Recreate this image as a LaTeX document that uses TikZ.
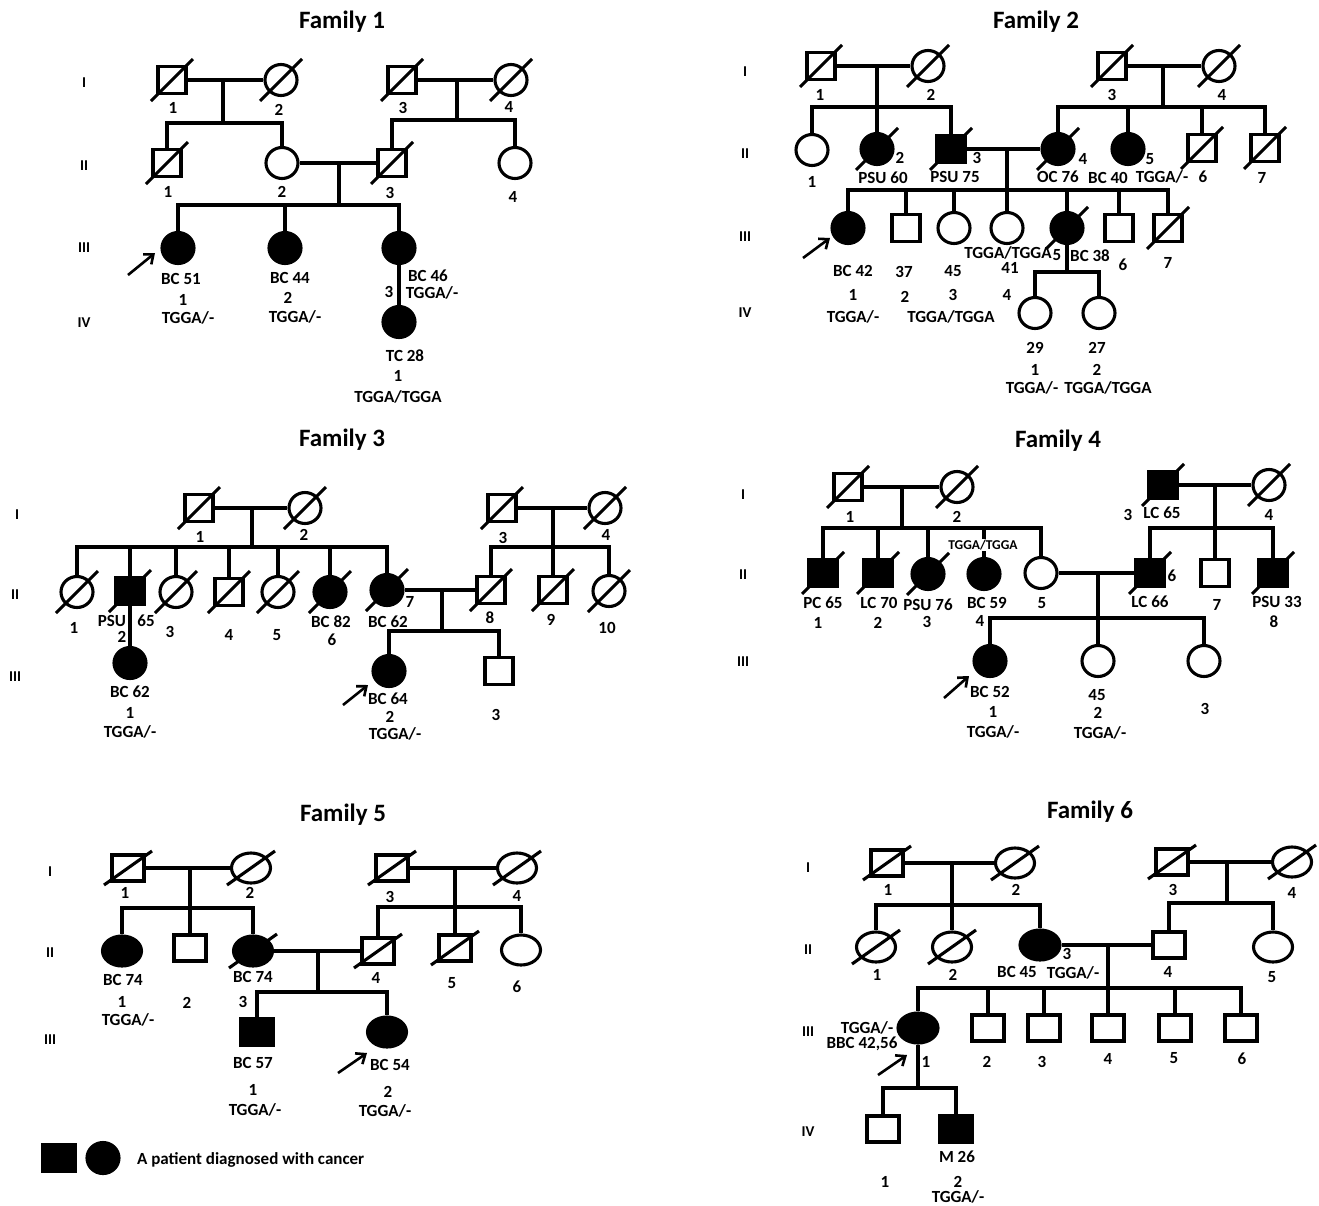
\documentclass[tikz,border=0pt]{standalone}
\usepackage{fontspec}
\setmainfont{Carlito}
\usetikzlibrary{shapes.geometric,arrows.meta}
\newcommand\dcs[1]{\draw[slash] ([shift={(-21,21)}]#1.center) -- ([shift={(21,-21)}]#1.center);}
\newcommand\dcw[1]{\draw[slash] ([shift={(-24,17)}]#1.center) -- ([shift={(24,-17)}]#1.center);}
\newcommand\txtat[4]{\node[txt] (#1) at (#2,#3) {#4};}
\newcommand\drop[2]{\draw[pl] (#1.north) -- (#1.north |- #2);}
\begin{document}
\begin{tikzpicture}[x=1pt,y=-1pt,
 pl/.style={line width=3.1pt},
 slash/.style={line width=3.1pt},
 sq/.style={draw,line width=3.1pt,rectangle,minimum width=28pt,minimum height=27pt,inner sep=0pt},
 ci/.style={draw,line width=3.1pt,ellipse,minimum width=32pt,minimum height=31pt,inner sep=0pt},
 sqw/.style={sq,minimum width=32pt,minimum height=26pt},
 ciw/.style={ci,minimum width=39pt,minimum height=30pt},
 aff/.style={fill=black},
 txt/.style={inner sep=0pt,font=\bfseries\fontsize{17}{17}\selectfont},
 small/.style={inner sep=0pt,font=\bfseries\fontsize{13.5}{13.5}\selectfont},
 gen/.style={inner sep=0pt,font=\bfseries\fontsize{15}{15}\selectfont},
 title/.style={inner sep=0pt,font=\bfseries\fontsize{25}{25}\selectfont},
 prob/.style={line width=2.6pt,-{Straight Barb[length=8pt,width=13pt]}},
]
\fill[white] (0,0) rectangle (1319,1205);
\useasboundingbox (0,0) rectangle (1319,1205);

%%%%%%%%%%%%%%%% FAMILY 1
\node[title] (t1) at (342,22) {Family 1};
\node[gen] (f1g1) at (84,83) {I};
\node[gen] (f1g2) at (84,166) {II};
\node[gen] (f1g3) at (84,248) {III};
\node[gen] (f1g4) at (84,323) {IV};
\node[sq] (f1-1-1) at (172,80) {}; \dcs{f1-1-1}
\node[ci] (f1-1-2) at (281,80) {}; \dcs{f1-1-2}
\node[sq] (f1-1-3) at (402,80) {}; \dcs{f1-1-3}
\node[ci] (f1-1-4) at (511,80) {}; \dcs{f1-1-4}
\node[sq] (f1-2-1) at (167,163) {}; \dcs{f1-2-1}
\node[ci] (f1-2-2) at (282,163) {};
\node[sq] (f1-2-3) at (392,163) {}; \dcs{f1-2-3}
\node[ci] (f1-2-4) at (515,163) {};
\node[ci,aff] (f1-3-1) at (178,248) {};
\node[ci,aff] (f1-3-2) at (285,248) {};
\node[ci,aff] (f1-3-3) at (399,248) {};
\node[ci,aff] (f1-4-1) at (399,322) {};
\coordinate (f1m1) at (223,80); \coordinate (f1s1) at (223,123);
\coordinate (f1m2) at (457,80); \coordinate (f1s2) at (457,120);
\coordinate (f1m3) at (339,163); \coordinate (f1s3) at (339,205);
\draw[pl] (f1-1-1.east) -- (f1-1-2.west);
\draw[pl] (f1-1-3.east) -- (f1-1-4.west);
\draw[pl] (f1-2-2.east) -- (f1-2-3.west);
\draw[pl] (f1m1) -- (f1s1);
\draw[pl] (f1-2-1.north) |- (f1s1) -| (f1-2-2.north);
\draw[pl] (f1m2) -- (f1s2);
\draw[pl] (f1-2-3.north) |- (f1s2) -| (f1-2-4.north);
\draw[pl] (f1m3) -- (f1s3);
\draw[pl] (f1-3-1.north) |- (f1s3) -| (f1-3-3.north);
\drop{f1-3-2}{f1s3}
\draw[pl] (f1-3-3.south) -- (f1-4-1.north);
\coordinate (f1a) at (128,275);
\draw[prob] (f1a) -- ([shift={(-23,5)}]f1-3-1.center);
\txtat{f1t1}{173}{108}{1}
\txtat{f1t2}{279}{110}{2}
\txtat{f1t3}{403}{108}{3}
\txtat{f1t4}{509}{107}{4}
\txtat{f1t5}{168}{192}{1}
\txtat{f1t6}{282}{192}{2}
\txtat{f1t7}{390}{193}{3}
\txtat{f1t8}{513}{197}{4}
\txtat{f1t9}{181}{279}{BC 51}
\txtat{f1t10}{183}{300}{1}
\txtat{f1t11}{188}{318}{TGGA/-}
\txtat{f1t12}{290}{278}{BC 44}
\txtat{f1t13}{288}{298}{2}
\txtat{f1t14}{295}{317}{TGGA/-}
\txtat{f1t15}{428}{276}{BC 46}
\txtat{f1t16}{432}{293}{TGGA/-}
\txtat{f1t17}{389}{292}{3}
\txtat{f1t18}{405}{356}{TC 28}
\txtat{f1t19}{398}{376}{1}
\txtat{f1t20}{398}{397}{TGGA/TGGA}

%%%%%%%%%%%%%%%% FAMILY 2
\node[title] (t2) at (1036,22) {Family 2};
\node[gen] (f2g1) at (745,72) {I};
\node[gen] (f2g2) at (745,154) {II};
\node[gen] (f2g3) at (745,237) {III};
\node[gen] (f2g4) at (745,313) {IV};
\node[sq] (f2-1-1) at (821,66) {}; \dcs{f2-1-1}
\node[ci] (f2-1-2) at (928,66) {}; \dcs{f2-1-2}
\node[sq] (f2-1-3) at (1112,66) {}; \dcs{f2-1-3}
\node[ci] (f2-1-4) at (1219,66) {}; \dcs{f2-1-4}
\node[ci] (f2-2-1) at (812,150) {};
\node[ci,aff] (f2-2-2) at (877,149) {}; \dcs{f2-2-2}
\node[sq,aff] (f2-2-3) at (951,149) {}; \dcs{f2-2-3}
\node[ci,aff] (f2-2-4) at (1058,149) {}; \dcs{f2-2-4}
\node[ci,aff] (f2-2-5) at (1128,149) {};
\node[sq] (f2-2-6) at (1202,148) {}; \dcs{f2-2-6}
\node[sq] (f2-2-7) at (1265,148) {}; \dcs{f2-2-7}
\node[ci,aff] (f2-3-1) at (848,228) {};
\node[sq] (f2-3-2) at (906,228) {};
\node[ci] (f2-3-3) at (954,228) {};
\node[ci] (f2-3-4) at (1007,228) {};
\node[ci,aff] (f2-3-5) at (1067,228) {}; \dcs{f2-3-5}
\node[sq] (f2-3-6) at (1119,228) {};
\node[sq] (f2-3-7) at (1168,228) {}; \dcs{f2-3-7}
\node[ci] (f2-4-1) at (1035,313) {};
\node[ci] (f2-4-2) at (1099,313) {};
\coordinate (f2m1) at (877,66); \coordinate (f2s1) at (877,107);
\coordinate (f2m2) at (1163,66); \coordinate (f2s2) at (1163,107);
\coordinate (f2m3) at (1007,149); \coordinate (f2s3) at (1007,190);
\coordinate (f2s4) at (1067,272);
\draw[pl] (f2-1-1.east) -- (f2-1-2.west);
\draw[pl] (f2-1-3.east) -- (f2-1-4.west);
\draw[pl] (f2-2-3.east) -- (f2-2-4.west);
\draw[pl] (f2m1) -- (f2-2-2.north);
\draw[pl] (f2-2-1.north) |- (f2s1) -| (f2-2-3.north);
\draw[pl] (f2m2) -- (f2s2);
\draw[pl] (f2-2-4.north) |- (f2s2) -| (f2-2-7.north);
\drop{f2-2-5}{f2s2}
\drop{f2-2-6}{f2s2}
\draw[pl] (f2m3) -- (f2-3-4.north);
\draw[pl] (f2-3-1.north) |- (f2s3) -| (f2-3-7.north);
\drop{f2-3-2}{f2s3}
\drop{f2-3-3}{f2s3}
\drop{f2-3-5}{f2s3}
\drop{f2-3-6}{f2s3}
\draw[pl] (f2-3-5.south) -- (f2s4);
\draw[pl] (f2-4-1.north) |- (f2s4) -| (f2-4-2.north);
\coordinate (f2a) at (803,258);
\draw[prob] (f2a) -- ([shift={(-18,10)}]f2-3-1.center);
\txtat{f2t1}{820}{95}{1}
\txtat{f2t2}{931}{95}{2}
\txtat{f2t3}{1112}{95}{3}
\txtat{f2t4}{1222}{95}{4}
\txtat{f2t5}{812}{182}{1}
\txtat{f2t6}{900}{158}{2}
\txtat{f2t7}{883}{178}{PSU 60}
\txtat{f2t8}{977}{158}{3}
\txtat{f2t9}{955}{177}{PSU 75}
\txtat{f2t10}{1083}{159}{4}
\txtat{f2t11}{1058}{177}{OC 76}
\txtat{f2t12}{1150}{159}{5}
\txtat{f2t13}{1108}{178}{BC 40}
\txtat{f2t14}{1162}{177}{TGGA/-}
\txtat{f2t15}{1203}{177}{6}
\txtat{f2t16}{1262}{178}{7}
\txtat{f2t17}{853}{271}{BC 42}
\txtat{f2t18}{904}{272}{37}
\txtat{f2t19}{953}{271}{45}
\txtat{f2t20}{1008}{253}{TGGA/TGGA}
\txtat{f2t21}{1010}{268}{41}
\txtat{f2t22}{1057}{255}{5}
\txtat{f2t23}{1090}{256}{BC 38}
\txtat{f2t24}{1123}{265}{6}
\txtat{f2t25}{1168}{263}{7}
\txtat{f2t26}{853}{295}{1}
\txtat{f2t27}{905}{297}{2}
\txtat{f2t28}{953}{295}{3}
\txtat{f2t29}{1007}{295}{4}
\txtat{f2t30}{853}{317}{TGGA/-}
\txtat{f2t31}{951}{317}{TGGA/TGGA}
\txtat{f2t32}{1035}{348}{29}
\txtat{f2t33}{1097}{348}{27}
\txtat{f2t34}{1035}{370}{1}
\txtat{f2t35}{1097}{370}{2}
\txtat{f2t36}{1032}{388}{TGGA/-}
\txtat{f2t37}{1108}{388}{TGGA/TGGA}

%%%%%%%%%%%%%%%% FAMILY 3
\node[title] (t3) at (342,440) {Family 3};
\node[gen] (f3g1) at (17,515) {I};
\node[gen] (f3g2) at (15,595) {II};
\node[gen] (f3g3) at (15,677) {III};
\node[sq] (f3-1-1) at (199,508) {}; \dcs{f3-1-1}
\node[ci] (f3-1-2) at (305,508) {}; \dcs{f3-1-2}
\node[sq] (f3-1-3) at (502,508) {}; \dcs{f3-1-3}
\node[ci] (f3-1-4) at (605,508) {}; \dcs{f3-1-4}
\node[ci] (f3-2-1) at (77,592) {}; \dcs{f3-2-1}
\node[sq,aff] (f3-2-2) at (130,591) {}; \dcs{f3-2-2}
\node[ci] (f3-2-3) at (176,592) {}; \dcs{f3-2-3}
\node[sq] (f3-2-4) at (229,592) {}; \dcs{f3-2-4}
\node[ci] (f3-2-5) at (278,592) {}; \dcs{f3-2-5}
\node[ci,aff] (f3-2-6) at (330,592) {}; \dcs{f3-2-6}
\node[ci,aff] (f3-2-7) at (387,590) {}; \dcs{f3-2-7}
\node[sq] (f3-2-8) at (491,590) {}; \dcs{f3-2-8}
\node[sq] (f3-2-9) at (553,590) {}; \dcs{f3-2-9}
\node[ci] (f3-2-10) at (609,591) {}; \dcs{f3-2-10}
\node[ci,aff] (f3-3-1) at (130,663) {};
\node[ci,aff] (f3-3-2) at (389,671) {};
\node[sq] (f3-3-3) at (499,671) {};
\coordinate (f3m1) at (252,508); \coordinate (f3s1) at (252,547);
\coordinate (f3m2) at (553,508); \coordinate (f3s2) at (553,547);
\coordinate (f3m3) at (442,590); \coordinate (f3s3) at (442,631);
\draw[pl] (f3-1-1.east) -- (f3-1-2.west);
\draw[pl] (f3-1-3.east) -- (f3-1-4.west);
\draw[pl] (f3-2-7.east) -- (f3-2-8.west);
\draw[pl] (f3m1) -- (f3s1);
\draw[pl] (f3-2-1.north) |- (f3s1) -| (f3-2-7.north);
\drop{f3-2-2}{f3s1}
\drop{f3-2-3}{f3s1}
\drop{f3-2-4}{f3s1}
\drop{f3-2-5}{f3s1}
\drop{f3-2-6}{f3s1}
\draw[pl] (f3m2) -- (f3-2-9.north);
\draw[pl] (f3-2-8.north) |- (f3s2) -| (f3-2-10.north);
\draw[pl] (f3m3) -- (f3s3);
\draw[pl] (f3-3-2.north) |- (f3s3) -| (f3-3-3.north);
\draw[pl] (f3-2-2.south) -- (f3-3-1.north);
\coordinate (f3a) at (343,705);
\draw[prob] (f3a) -- ([shift={(-21,14)}]f3-3-2.center);
\txtat{f3t1}{200}{537}{1}
\txtat{f3t2}{304}{535}{2}
\txtat{f3t3}{503}{538}{3}
\txtat{f3t4}{606}{535}{4}
\txtat{f3t5}{74}{628}{1}
\txtat{f3t6}{112}{621}{PSU}
\txtat{f3t7}{146}{621}{65}
\txtat{f3t8}{122}{637}{2}
\txtat{f3t9}{170}{632}{3}
\txtat{f3t10}{229}{635}{4}
\txtat{f3t11}{277}{635}{5}
\txtat{f3t12}{331}{622}{BC 82}
\txtat{f3t13}{332}{640}{6}
\txtat{f3t14}{410}{602}{7}
\txtat{f3t15}{388}{622}{BC 62}
\txtat{f3t16}{490}{618}{8}
\txtat{f3t17}{551}{620}{9}
\txtat{f3t18}{607}{628}{10}
\txtat{f3t19}{130}{692}{BC 62}
\txtat{f3t20}{130}{713}{1}
\txtat{f3t21}{130}{732}{TGGA/-}
\txtat{f3t22}{388}{699}{BC 64}
\txtat{f3t23}{390}{717}{2}
\txtat{f3t24}{395}{734}{TGGA/-}
\txtat{f3t25}{496}{715}{3}

%%%%%%%%%%%%%%%% FAMILY 4
\node[title] (t4) at (1058,441) {Family 4};
\node[gen] (f4g1) at (743,495) {I};
\node[gen] (f4g2) at (743,575) {II};
\node[gen] (f4g3) at (743,662) {III};
\node[sq] (f4-1-1) at (848,487) {}; \dcs{f4-1-1}
\node[ci] (f4-1-2) at (957,487) {}; \dcs{f4-1-2}
\node[sq,aff] (f4-1-3) at (1163,485) {}; \dcs{f4-1-3}
\node[ci] (f4-1-4) at (1269,485) {}; \dcs{f4-1-4}
\node[sq,aff] (f4-2-1) at (823,573) {}; \dcs{f4-2-1}
\node[sq,aff] (f4-2-2) at (878,573) {}; \dcs{f4-2-2}
\node[ci,aff] (f4-2-3) at (928,574) {}; \dcs{f4-2-3}
\node[ci,aff] (f4-2-4) at (984,574) {};
\node[ci] (f4-2-5) at (1041,573) {};
\node[sq,aff] (f4-2-6) at (1150,573) {}; \dcs{f4-2-6}
\node[sq] (f4-2-7) at (1215,573) {};
\node[sq,aff] (f4-2-8) at (1273,573) {}; \dcs{f4-2-8}
\node[ci,aff] (f4-3-1) at (990,661) {};
\node[ci] (f4-3-2) at (1098,661) {};
\node[ci] (f4-3-3) at (1204,661) {};
\coordinate (f4m1) at (902,487); \coordinate (f4s1) at (902,528);
\coordinate (f4m2) at (1215,485); \coordinate (f4s2) at (1215,528);
\coordinate (f4m3) at (1098,573); \coordinate (f4s3) at (1098,618);
\draw[pl] (f4-1-1.east) -- (f4-1-2.west);
\draw[pl] (f4-1-3.east) -- (f4-1-4.west);
\draw[pl] (f4-2-5.east) -- (f4-2-6.west);
\draw[pl] (f4m1) -- (f4s1);
\draw[pl] (f4-2-1.north) |- (f4s1) -| (f4-2-5.north);
\drop{f4-2-2}{f4s1}
\drop{f4-2-3}{f4s1}
\drop{f4-2-4}{f4s1}
\draw[pl] (f4m2) -- (f4-2-7.north);
\draw[pl] (f4-2-6.north) |- (f4s2) -| (f4-2-8.north);
\draw[pl] (f4m3) -- (f4-3-2.north);
\draw[pl] (f4-3-1.north) |- (f4s3) -| (f4-3-3.north);
\coordinate (f4a) at (944,698);
\draw[prob] (f4a) -- ([shift={(-21,15)}]f4-3-1.center);
\txtat{f4t1}{850}{517}{1}
\txtat{f4t2}{957}{517}{2}
\txtat{f4t3}{1128}{515}{3}
\txtat{f4t4}{1162}{513}{LC 65}
\txtat{f4t5}{1269}{515}{4}
\node[small,fill=white,inner sep=0.5pt] (f4t6) at (983,545) {TGGA/TGGA};
\txtat{f4t7}{823}{603}{PC 65}
\txtat{f4t8}{818}{623}{1}
\txtat{f4t9}{879}{603}{LC 70}
\txtat{f4t10}{878}{623}{2}
\txtat{f4t11}{928}{605}{PSU 76}
\txtat{f4t12}{927}{622}{3}
\txtat{f4t13}{987}{603}{BC 59}
\txtat{f4t14}{980}{621}{4}
\txtat{f4t15}{1042}{603}{5}
\txtat{f4t16}{1172}{576}{6}
\txtat{f4t17}{1150}{602}{LC 66}
\txtat{f4t18}{1217}{605}{7}
\txtat{f4t19}{1277}{602}{PSU 33}
\txtat{f4t20}{1274}{622}{8}
\txtat{f4t21}{990}{692}{BC 52}
\txtat{f4t22}{993}{712}{1}
\txtat{f4t23}{993}{732}{TGGA/-}
\txtat{f4t24}{1097}{695}{45}
\txtat{f4t25}{1098}{713}{2}
\txtat{f4t26}{1100}{733}{TGGA/-}
\txtat{f4t27}{1205}{709}{3}

%%%%%%%%%%%%%%%% FAMILY 5
\node[title] (t5) at (343,815) {Family 5};
\node[gen] (f5g1) at (50,872) {I};
\node[gen] (f5g2) at (50,953) {II};
\node[gen] (f5g3) at (50,1040) {III};
\node[sqw] (f5-1-1) at (128,868) {}; \dcw{f5-1-1}
\node[ciw] (f5-1-2) at (251,868) {}; \dcw{f5-1-2}
\node[sqw] (f5-1-3) at (392,868) {}; \dcw{f5-1-3}
\node[ciw] (f5-1-4) at (517,868) {}; \dcw{f5-1-4}
\node[ciw,aff] (f5-2-1) at (122,951) {};
\node[sqw] (f5-2-2) at (190,948) {};
\node[ciw,aff] (f5-2-3) at (253,951) {}; \dcw{f5-2-3}
\node[sqw] (f5-2-4) at (378,951) {}; \dcw{f5-2-4}
\node[sqw] (f5-2-5) at (455,948) {}; \dcw{f5-2-5}
\node[ciw] (f5-2-6) at (521,950) {};
\node[sqw,aff] (f5-3-1) at (257,1032) {};
\node[ciw,aff] (f5-3-2) at (387,1032) {};
\coordinate (f5m1) at (190,868); \coordinate (f5s1) at (190,908);
\coordinate (f5m2) at (455,868); \coordinate (f5s2) at (455,907);
\coordinate (f5m3) at (318,951); \coordinate (f5s3) at (318,992);
\draw[pl] (f5-1-1.east) -- (f5-1-2.west);
\draw[pl] (f5-1-3.east) -- (f5-1-4.west);
\draw[pl] (f5-2-3.east) -- (f5-2-4.west);
\draw[pl] (f5m1) -- (f5-2-2.north);
\draw[pl] (f5-2-1.north) |- (f5s1) -| (f5-2-3.north);
\draw[pl] (f5m2) -- (f5-2-5.north);
\draw[pl] (f5-2-4.north) |- (f5s2) -| (f5-2-6.north);
\draw[pl] (f5m3) -- (f5s3);
\draw[pl] (f5-3-1.north) |- (f5s3) -| (f5-3-2.north);
\coordinate (f5a) at (338,1073);
\draw[prob] (f5a) -- ([shift={(-20,21)}]f5-3-2.center);
\txtat{f5t1}{125}{893}{1}
\txtat{f5t2}{250}{893}{2}
\txtat{f5t3}{390}{897}{3}
\txtat{f5t4}{517}{896}{4}
\txtat{f5t5}{123}{980}{BC 74}
\txtat{f5t6}{122}{1002}{1}
\txtat{f5t7}{128}{1020}{TGGA/-}
\txtat{f5t8}{187}{1003}{2}
\txtat{f5t9}{253}{977}{BC 74}
\txtat{f5t10}{243}{1002}{3}
\txtat{f5t11}{376}{978}{4}
\txtat{f5t12}{452}{983}{5}
\txtat{f5t13}{517}{987}{6}
\txtat{f5t14}{253}{1063}{BC 57}
\txtat{f5t15}{253}{1090}{1}
\txtat{f5t16}{255}{1110}{TGGA/-}
\txtat{f5t17}{390}{1065}{BC 54}
\txtat{f5t18}{388}{1092}{2}
\txtat{f5t19}{385}{1111}{TGGA/-}
% legend
\node[sq,aff,minimum width=33pt,minimum height=27pt] (lg1) at (59,1158) {};
\node[ci,aff] (lg2) at (103,1158) {};
\node[inner sep=0pt,anchor=west,font=\bfseries\fontsize{17}{17}\selectfont] (lg3) at (137,1160) {A patient diagnosed with cancer};

%%%%%%%%%%%%%%%% FAMILY 6
\node[title] (t6) at (1090,812) {Family 6};
\node[gen] (f6g1) at (808,868) {I};
\node[gen] (f6g2) at (808,950) {II};
\node[gen] (f6g3) at (808,1032) {III};
\node[gen] (f6g4) at (808,1132) {IV};
\node[sqw] (f6-1-1) at (887,863) {}; \dcw{f6-1-1}
\node[ciw] (f6-1-2) at (1015,863) {}; \dcw{f6-1-2}
\node[sqw] (f6-1-3) at (1172,862) {}; \dcw{f6-1-3}
\node[ciw] (f6-1-4) at (1292,862) {}; \dcw{f6-1-4}
\node[ciw] (f6-2-1) at (876,947) {}; \dcw{f6-2-1}
\node[ciw] (f6-2-2) at (952,947) {}; \dcw{f6-2-2}
\node[ciw,aff,minimum width=40pt] (f6-2-3) at (1040,945) {};
\node[sqw] (f6-2-4) at (1169,945) {};
\node[ciw] (f6-2-5) at (1273,947) {};
\node[ciw,aff,minimum width=40pt] (f6-3-1) at (918,1028) {};
\node[sqw] (f6-3-2) at (988,1028) {};
\node[sqw] (f6-3-3) at (1044,1028) {};
\node[sqw] (f6-3-4) at (1108,1028) {};
\node[sqw] (f6-3-5) at (1175,1028) {};
\node[sqw] (f6-3-6) at (1241,1028) {};
\node[sqw] (f6-4-1) at (883,1129) {};
\node[sqw,aff] (f6-4-2) at (956,1129) {};
\coordinate (f6m1) at (952,863); \coordinate (f6s1) at (952,905);
\coordinate (f6m2) at (1227,862); \coordinate (f6s2) at (1227,903);
\coordinate (f6m3) at (1108,945); \coordinate (f6s3) at (1108,988);
\coordinate (f6s4) at (918,1088);
\draw[pl] (f6-1-1.east) -- (f6-1-2.west);
\draw[pl] (f6-1-3.east) -- (f6-1-4.west);
\draw[pl] (f6-2-3.east) -- (f6-2-4.west);
\draw[pl] (f6m1) -- (f6-2-2.north);
\draw[pl] (f6-2-1.north) |- (f6s1) -| (f6-2-3.north);
\draw[pl] (f6m2) -- (f6s2);
\draw[pl] (f6-2-4.north) |- (f6s2) -| (f6-2-5.north);
\draw[pl] (f6m3) -- (f6-3-4.north);
\draw[pl] (f6-3-1.north) |- (f6s3) -| (f6-3-6.north);
\drop{f6-3-2}{f6s3}
\drop{f6-3-3}{f6s3}
\drop{f6-3-5}{f6s3}
\draw[pl] (f6-3-1.south) -- (f6s4);
\draw[pl] (f6-4-1.north) |- (f6s4) -| (f6-4-2.north);
\coordinate (f6a) at (878,1075);
\draw[prob] (f6a) -- ([shift={(-11,27)}]f6-3-1.center);
\txtat{f6t1}{888}{890}{1}
\txtat{f6t2}{1016}{890}{2}
\txtat{f6t3}{1173}{890}{3}
\txtat{f6t4}{1292}{893}{4}
\txtat{f6t5}{877}{975}{1}
\txtat{f6t6}{953}{975}{2}
\txtat{f6t7}{1017}{972}{BC 45}
\txtat{f6t8}{1067}{954}{3}
\txtat{f6t9}{1073}{973}{TGGA/-}
\txtat{f6t10}{1168}{972}{4}
\txtat{f6t11}{1272}{977}{5}
\txtat{f6t12}{867}{1028}{TGGA/-}
\txtat{f6t13}{862}{1044}{BBC 42,56}
\txtat{f6t14}{926}{1062}{1}
\txtat{f6t15}{987}{1062}{2}
\txtat{f6t16}{1042}{1062}{3}
\txtat{f6t17}{1108}{1059}{4}
\txtat{f6t18}{1174}{1058}{5}
\txtat{f6t19}{1242}{1059}{6}
\txtat{f6t20}{957}{1157}{M 26}
\txtat{f6t21}{885}{1182}{1}
\txtat{f6t22}{958}{1182}{2}
\txtat{f6t23}{958}{1197}{TGGA/-}
\end{tikzpicture}
\end{document}
